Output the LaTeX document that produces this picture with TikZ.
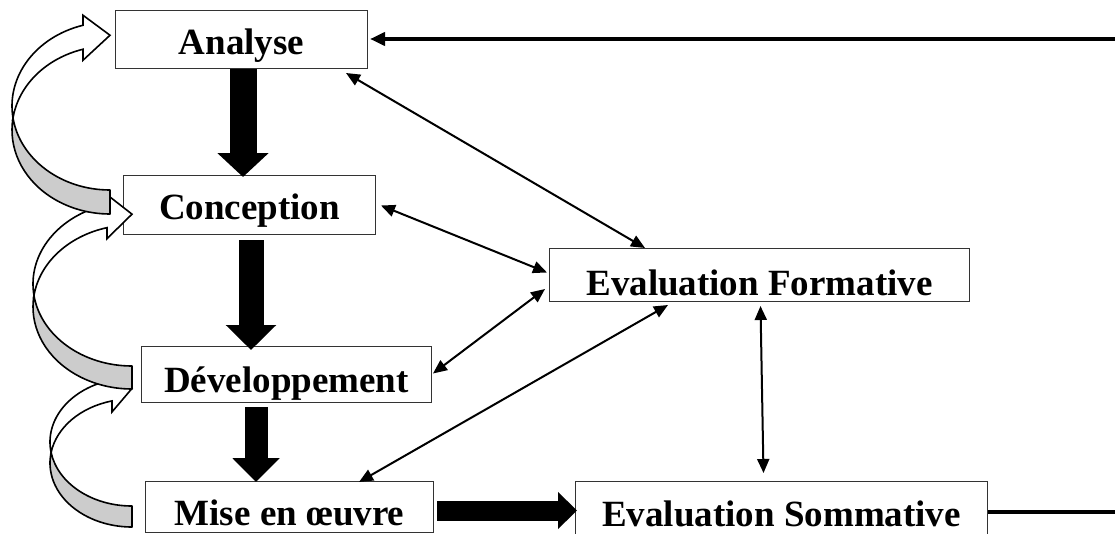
\documentclass[tikz,border=0pt]{standalone}
\usepackage{fontspec}
\setmainfont{Liberation Serif}
\usetikzlibrary{arrows.meta,calc}

% curved return arrow: centre x, centre y, x radius, y radius, band, head x
\newcommand{\loopArrow}[6]{%
  \pgfmathsetmacro{\lpCy}{#2+#5}%
  \pgfmathsetmacro{\lpT}{asin(#5/(2*#4))}%
  \pgfmathsetmacro{\lpA}{180-\lpT}%
  \pgfmathsetmacro{\lpB}{180+\lpT}%
  \pgfmathsetmacro{\lpH}{360-acos((#6-#1)/#3)}%
  \pgfmathsetmacro{\lpLx}{#1+#3*cos(\lpA)}%
  \pgfmathsetmacro{\lpLy}{#2+#4*sin(\lpA)}%
  \pgfmathsetmacro{\lpYa}{#2+#4*sin(\lpH)}%
  \pgfmathsetmacro{\lpYb}{\lpCy+#4*sin(\lpH)}%
  \pgfmathsetmacro{\lpTip}{(\lpYa+\lpYb)/2-2}%
  \draw[loopback] (#1,#2+#4) arc[start angle=90, end angle=\lpA, x radius=#3, y radius=#4]
    arc[start angle=\lpB, end angle=90, x radius=#3, y radius=#4] -- cycle;
  \draw[loopfront] (\lpLx,\lpLy) arc[start angle=\lpA, end angle=\lpH, x radius=#3, y radius=#4]
    -- (#6,\lpYa-10) -- (#1,\lpTip) -- (#6,\lpYb+11) -- (#6,\lpYb)
    arc[start angle=\lpH, end angle=\lpB, x radius=#3, y radius=#4] -- cycle;
}

\tikzset{
  box/.style={draw=black!80, line width=1pt, inner sep=0pt, anchor=north west,
    font=\fontsize{37}{44}\selectfont\bfseries},
  dblarrow/.style={line width=2pt,
    {Triangle[length=14pt,width=12pt]}-{Triangle[length=14pt,width=12pt]}},
  thickline/.style={line width=4.5pt},
  loopback/.style={draw, line width=1.6pt, fill=black!20, line join=round},
  loopfront/.style={draw, line width=1.6pt, fill=white},
}

\begin{document}
\begin{tikzpicture}[x=1pt, y=-1pt]
    \useasboundingbox (0,0) rectangle (1115,533);

    % boxes
    \node[box, minimum width=252pt, text height=44pt, text depth=14pt] (ana) at (115,10) {Analyse};
    \node[box, minimum width=252pt, text height=44pt, text depth=15pt] (conc) at (123,175) {Conception};
    \node[box, minimum width=290pt, text height=46pt, text depth=10pt] (dev) at (141,346) {Développement};
    \node[box, minimum width=288pt, text height=44pt, text depth=7pt] (mise) at (145,481) {Mise en œuvre};
    \node[box, minimum width=420pt, text height=47pt, text depth=6pt] (form) at (549,248) {Evaluation Formative};
    \node[box, minimum width=412pt, text height=45pt, text depth=14pt] (somm) at (575,481) {Evaluation Sommative};

    % block arrows
    \draw[line width=27pt, -{Triangle[length=24pt,width=50pt]}]
        ($(ana.south)+(1.5,0)$) -- ($(ana.south |- conc.north)+(1.5,2)$);
    \draw[line width=25pt, -{Triangle[length=25pt,width=49pt]}]
        ($(conc.south)+(1.5,5)$) -- ($(conc.south |- dev.north)+(1.5,4)$);
    \draw[line width=23pt, -{Triangle[length=24pt,width=46pt]}]
        ($(dev.south)+(-30.5,4)$) -- ($(dev.south |- mise.north)+(-30.5,1)$);
    \draw[line width=20pt, -{Triangle[length=19pt,width=36pt]}]
        ($(mise.east)+(3,3.5)$) -- ($(mise.east -| somm.west)+(2,3.5)$);

    % links with the formative evaluation
    \draw[dblarrow] ($(ana.south east)+(-22,4)$) -- ($(form.north west)+(96,0)$);
    \draw[dblarrow] ($(conc.east)+(5,0.5)$) -- ($(form.west)+(-2,-2.5)$);
    \draw[dblarrow] ($(dev.east)+(1,-1)$) -- ($(form.south west)+(-4,-13)$);
    \draw[dblarrow] ($(mise.north east)+(-75,1)$) -- ($(form.south west)+(119,3)$);
    \draw[dblarrow] ($(form.south)+(1,4)$) -- ($(somm.north)+(-18,-8)$);

    % feedback lines
    \coordinate (topend) at (1115,39);
    \coordinate (botend) at (1115,512);
    \draw[thickline, -{Triangle[length=15pt,width=13pt]}] (topend) -- ($(topend -| ana.east)+(2,0)$);
    \draw[thickline] (botend -| somm.east) -- (botend);

    % curved return arrows
    \loopArrow{132}{442}{82}{64}{21}{112}
    \loopArrow{132}{284}{99}{82}{23}{107}
    \loopArrow{110}{106}{98}{84}{24}{83}
\end{tikzpicture}
\end{document}
